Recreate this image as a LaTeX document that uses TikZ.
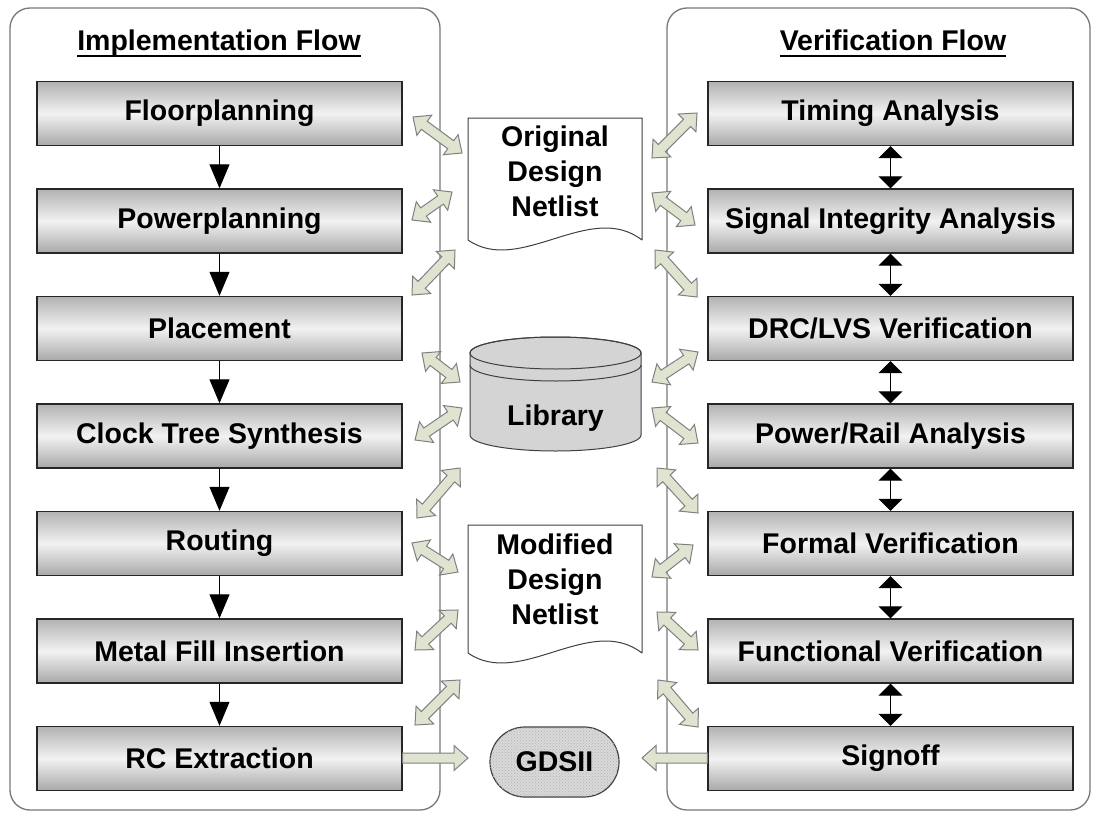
\documentclass[tikz,border=0pt]{standalone}
\usepackage{fontspec}
\setmainfont{Liberation Sans}
\usetikzlibrary{arrows.meta,calc,patterns}

\definecolor{fatfill}{RGB}{222,228,208}
\definecolor{fatedge}{RGB}{128,128,128}
\definecolor{frameedge}{RGB}{120,120,120}
\definecolor{cylgray}{RGB}{212,212,212}

% fat double-headed block arrow between two named points
\newcommand\fatarrow[2]{%
  \coordinate (fA) at (#1); \coordinate (fB) at (#2);
  \coordinate (fH1) at ($(fA)!14pt!(fB)$);
  \coordinate (fH2) at ($(fB)!14pt!(fA)$);
  \draw[fatblock] (fA) -- ($(fH1)!12.5pt!90:(fB)$) -- ($(fH1)!5pt!90:(fB)$)
    -- ($(fH2)!5pt!-90:(fA)$) -- ($(fH2)!12.5pt!-90:(fA)$) -- (fB)
    -- ($(fH2)!12.5pt!90:(fA)$) -- ($(fH2)!5pt!90:(fA)$)
    -- ($(fH1)!5pt!-90:(fB)$) -- ($(fH1)!12.5pt!-90:(fB)$) -- cycle;}
% fat single block arrow from #1 pointing at #2
\newcommand\fatsingle[2]{%
  \coordinate (fA) at (#1); \coordinate (fB) at (#2);
  \coordinate (fH) at ($(fB)!14pt!(fA)$);
  \draw[fatblock] (fB) -- ($(fH)!12.5pt!90:(fA)$) -- ($(fH)!5pt!90:(fA)$)
    -- ($(fA)!5pt!-90:(fB)$) -- ($(fA)!5pt!90:(fB)$)
    -- ($(fH)!5pt!-90:(fA)$) -- ($(fH)!12.5pt!-90:(fA)$) -- cycle;}

\begin{document}
\begin{tikzpicture}[x=1pt,y=-1pt,
  every node/.style={font=\bfseries\fontsize{28.5}{35}\selectfont},
  frame/.style={draw=frameedge, line width=1.3pt, rounded corners=20pt},
  stage/.style={draw=black!85, line width=1.4pt, minimum width=365, minimum height=64,
    inner sep=0pt, top color=black!30, bottom color=black!34, middle color=black!5},
  flowarr/.style={draw=black, line width=1pt,
    -{Triangle[width=20pt,length=24pt]}},
  biarr/.style={draw=black, line width=1pt,
    {Triangle[width=24pt,length=12pt]}-{Triangle[width=24pt,length=12pt]}},
  fatblock/.style={draw=fatedge, fill=fatfill, line width=1pt, line join=miter},
  docshape/.style={draw=black!75, line width=1pt, fill=white},
  title/.style={inner sep=0pt}
]
\useasboundingbox (0,0) rectangle (1093,814);
\fill[white] (0,0) rectangle (1093,814);

% the two flow frames
\draw[frame] (10,8) rectangle (440,810);
\draw[frame] (667,8) rectangle (1090,810);

% titles
\node[title, anchor=base] (t1) at (219,50) {Implementation Flow};
\node[title, anchor=base] (t2) at (893,50) {Verification Flow};
\draw[line width=2.6pt] ([yshift=-6pt]t1.base west) -- ([yshift=-6pt]t1.base east);
\draw[line width=2.6pt] ([yshift=-6pt]t2.base west) -- ([yshift=-6pt]t2.base east);

% implementation stages
\node[stage] (b1) at (219.5,113.5) {Floorplanning};
\node[stage] (b2) at (219.5,221)   {Powerplanning};
\node[stage] (b3) at (219.5,328.5) {Placement};
\node[stage] (b4) at (219.5,436)   {Clock Tree Synthesis};
\node[stage] (b5) at (219.5,543.5) {Routing};
\node[stage] (b6) at (219.5,651)   {Metal Fill Insertion};
\node[stage] (b7) at (219.5,758.5) {RC Extraction};
\foreach \a/\b in {b1/b2,b2/b3,b3/b4,b4/b5,b5/b6,b6/b7}
  \draw[flowarr] (\a) -- (\b);

% verification stages
\node[stage] (v1) at (890.5,113.5) {Timing Analysis};
\node[stage] (v2) at (890.5,221)   {Signal Integrity Analysis};
\node[stage] (v3) at (890.5,328.5) {DRC/LVS Verification};
\node[stage] (v4) at (890.5,436)   {Power/Rail Analysis};
\node[stage] (v5) at (890.5,543.5) {Formal Verification};
\node[stage] (v6) at (890.5,651)   {Functional Verification};
\node[stage] (v7) at (890.5,758.5) {Signoff};
\foreach \a/\b in {v1/v2,v2/v3,v3/v4,v4/v5,v5/v6,v6/v7}
  \draw[biarr] (\a) -- (\b);

% original netlist document
\draw[docshape] (642,240) -- (642,118) -- (468,118) -- (468,240)
  .. controls (520,276) and (590,200) .. (642,240);
\node[align=center] (orig) at (555,171) {Original\\Design\\Netlist};

% modified netlist document
\draw[docshape] (642,653) -- (642,525) -- (468,525) -- (468,653)
  .. controls (520,689) and (590,613) .. (642,653);
\node[align=center] (modi) at (555,579) {Modified\\Design\\Netlist};

% library cylinder
\path[fill=cylgray, draw=black!75, line width=1pt]
  (470,353) -- (470,435) arc[start angle=180, end angle=0, x radius=85.5, y radius=16]
  -- (641,353) arc[start angle=0, end angle=-180, x radius=85.5, y radius=16] -- cycle;
\draw[black!75, line width=1pt] (555.5,353) ellipse[x radius=85.5, y radius=16];
\draw[black!75, line width=1pt] (470,365) arc[start angle=180, end angle=0, x radius=85.5, y radius=16];
\node (lib) at (555.5,418) {Library};

% GDSII terminal
\node[draw=black!75, line width=1.2pt, fill=black!15, rounded corners=35pt,
  minimum width=129, minimum height=70, inner sep=0pt,
  postaction={pattern=crosshatch dots, pattern color=black!30}] (gds) at (554.5,762) {};
\node at (gds) {GDSII};

% left-side exchange arrows
\coordinate (l1a) at (413,117); \coordinate (l1b) at (462,153);
\coordinate (l2a) at (412,220); \coordinate (l2b) at (452,192);
\coordinate (l3a) at (412,295); \coordinate (l3b) at (455,250);
\coordinate (l4a) at (422,353); \coordinate (l4b) at (460,382);
\coordinate (l5a) at (415,440); \coordinate (l5b) at (462,408);
\coordinate (l6a) at (417,518); \coordinate (l6b) at (460,468);
\coordinate (l7a) at (412,543); \coordinate (l7b) at (458,572);
\coordinate (l8a) at (415,650); \coordinate (l8b) at (458,610);
\coordinate (l9a) at (415,725); \coordinate (l9b) at (460,680);
% right-side exchange arrows
\coordinate (r1a) at (652,158); \coordinate (r1b) at (697,113);
\coordinate (r2a) at (652,193); \coordinate (r2b) at (695,225);
\coordinate (r3a) at (655,250); \coordinate (r3b) at (697,297);
\coordinate (r4a) at (652,382); \coordinate (r4b) at (698,352);
\coordinate (r5a) at (652,408); \coordinate (r5b) at (698,443);
\coordinate (r6a) at (657,468); \coordinate (r6b) at (698,513);
\coordinate (r7a) at (652,577); \coordinate (r7b) at (693,545);
\coordinate (r8a) at (657,612); \coordinate (r8b) at (698,650);
\coordinate (r9a) at (658,680); \coordinate (r9b) at (698,727);
\foreach \i in {1,...,9} {
  \fatarrow{l\i a}{l\i b}
  \fatarrow{r\i a}{r\i b}
}

% outputs into GDSII
\coordinate (gin) at (468,758);
\coordinate (gin2) at (642,758);
\fatsingle{b7.east |- gin}{gin}
\fatsingle{v7.west |- gin2}{gin2}
\end{tikzpicture}
\end{document}
